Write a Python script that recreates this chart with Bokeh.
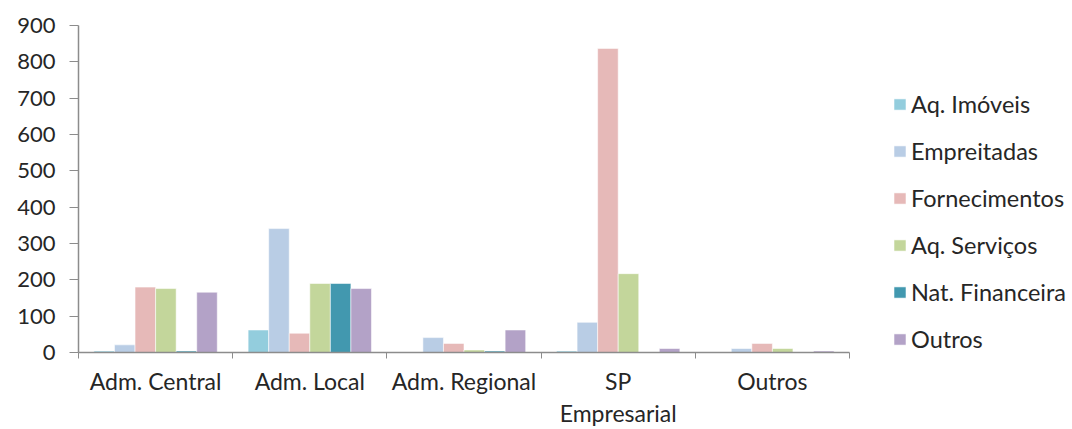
from bokeh.plotting import figure
from bokeh.models import FixedTicker, Range1d, Legend, LegendItem, ColumnDataSource
from bokeh.embed import file_html
from bokeh.resources import INLINE

# Categories on the x axis and one value list per expense type
categories = ["Adm. Central", "Adm. Local", "Adm. Regional", "SP\nEmpresarial", "Outros"]
series_names = ["Aq. Imóveis", "Empreitadas", "Fornecimentos", "Aq. Serviços", "Nat. Financeira", "Outros"]

aq_imoveis = [4, 62, 0, 4, 0]
empreitadas = [21, 341, 41, 83, 11]
fornecimentos = [180, 53, 25, 837, 25]
aq_servicos = [176, 190, 7, 217, 11]
nat_financeira = [4, 190, 4, 0, 0]
outros = [166, 176, 62, 11, 4]

y_ticks = [0, 100, 200, 300, 400, 500, 600, 700, 800, 900]

values = [aq_imoveis, empreitadas, fornecimentos, aq_servicos, nat_financeira, outros]
colors = ["#93CDDD", "#B9CDE5", "#E6B9B8", "#C3D69B", "#4298AF", "#B3A2C7"]

FONT = "Lato"
TEXT_COLOR = "#262626"
AXIS_COLOR = "#8C8C8C"

W, H = 1072, 429
LEFT, TOP, BOTTOM = 78, 25, 77
AXIS_W = 771          # pixel length of the category axis
frame_w = W - LEFT    # frame runs to the right edge so the legend can sit beside the bars

n_cat = len(categories)
centers = [i + 1 for i in range(n_cat)]
bar_w = 1 / 7.5  # six bars plus a 150% gap per category
x_start = 0.5
x_end = x_start + n_cat * frame_w / AXIS_W

p = figure(width=W, height=H, output_backend="svg", toolbar_location=None,
           x_range=Range1d(x_start, x_end), y_range=Range1d(0, 900),
           min_border_left=LEFT, min_border_right=0, min_border_top=TOP, min_border_bottom=BOTTOM)
p.outline_line_color = None
p.grid.visible = False
p.background_fill_color = "white"
p.border_fill_color = "white"

renderers = []
for j, (name, vals, col) in enumerate(zip(series_names, values, colors)):
    xs = [c + (j - 2.5) * bar_w for c in centers]
    src = ColumnDataSource(dict(x=xs, top=vals))
    r = p.vbar(x="x", top="top", bottom=0, width=bar_w, source=src,
               fill_color=col, line_color="white", line_alpha=0.55, line_width=1)
    renderers.append(r)

# x axis: labels at category centres, tick marks on the category boundaries
xa = p.xaxis[0]
xa.bounds = (x_start, x_start + n_cat)
xa.ticker = FixedTicker(ticks=centers, minor_ticks=[c - 0.5 for c in centers] + [n_cat + 0.5])
xa.major_label_overrides = {c: lab for c, lab in zip(centers, categories)}
xa.major_tick_line_color = None
xa.major_tick_out = 0
xa.major_tick_in = 0
xa.minor_tick_line_color = AXIS_COLOR
xa.minor_tick_out = 6
xa.minor_tick_in = 0
xa.axis_line_color = AXIS_COLOR
xa.axis_line_width = 1.5
xa.major_label_standoff = 8
xa.major_label_text_font = FONT
xa.major_label_text_font_size = "23px"
xa.major_label_text_color = TEXT_COLOR
xa.major_label_text_line_height = 1.15

ya = p.yaxis[0]
ya.ticker = FixedTicker(ticks=y_ticks)
ya.minor_tick_line_color = None
ya.major_tick_line_color = AXIS_COLOR
ya.major_tick_out = 9
ya.major_tick_in = 0
ya.axis_line_color = AXIS_COLOR
ya.axis_line_width = 1.5
ya.major_label_standoff = 14
ya.major_label_text_font = FONT
ya.major_label_text_font_size = "22px"
ya.major_label_text_color = TEXT_COLOR

legend = Legend(items=[LegendItem(label=n, renderers=[r]) for n, r in zip(series_names, renderers)],
                location=(AXIS_W + 43, -1), orientation="vertical",
                glyph_width=15, glyph_height=14, label_height=29, spacing=18,
                label_standoff=4, padding=0, margin=0,
                border_line_color=None, background_fill_alpha=0,
                label_text_font=FONT, label_text_font_size="23.5px", label_text_color=TEXT_COLOR)
p.add_layout(legend, "center")

open("out.html", "w").write(file_html(p, INLINE))
